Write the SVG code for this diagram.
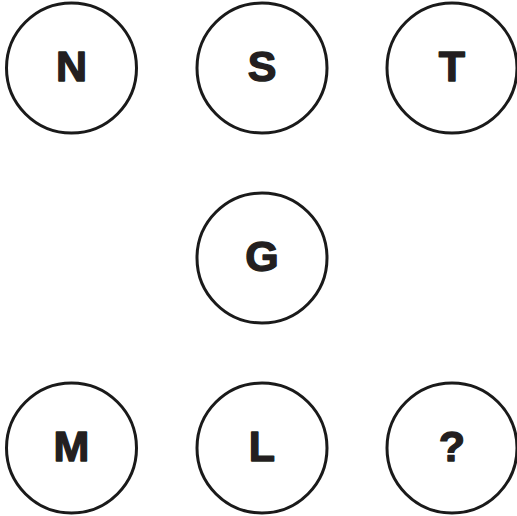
<svg xmlns="http://www.w3.org/2000/svg" width="517" height="516" viewBox="0 0 517 516">
<style>
.c{fill:#fff;stroke:#1a1a1a;stroke-width:3}
.t{font-family:"Liberation Sans",Arial,sans-serif;font-weight:bold;font-size:43px;fill:#231f20;stroke:#231f20;stroke-width:1.4;stroke-linejoin:round;text-anchor:middle}
</style>
<rect width="517" height="516" fill="#fff"/>
<g id="connectors"></g>
<g id="node-N"><circle class="c" cx="71.5" cy="68" r="65"/><text class="t" x="71.5" y="81">N</text></g>
<g id="node-S"><circle class="c" cx="262" cy="68" r="65"/><text class="t" x="262" y="81">S</text></g>
<g id="node-T"><circle class="c" cx="452" cy="68" r="65"/><text class="t" x="452" y="81">T</text></g>
<g id="node-G"><circle class="c" cx="262" cy="258" r="65"/><text class="t" x="262" y="271">G</text></g>
<g id="node-M"><circle class="c" cx="71.5" cy="448" r="65"/><text class="t" x="71.5" y="461">M</text></g>
<g id="node-L"><circle class="c" cx="262" cy="448" r="65"/><text class="t" x="262" y="461">L</text></g>
<g id="node-Q"><circle class="c" cx="452" cy="448" r="65"/><text class="t" x="452" y="461">?</text></g>
</svg>
